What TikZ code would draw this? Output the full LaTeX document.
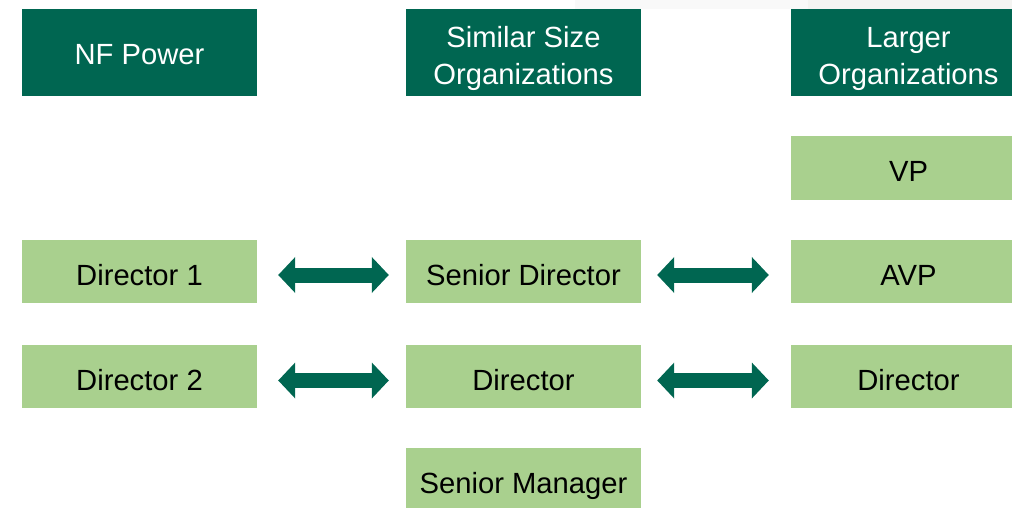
\documentclass[tikz,border=0pt]{standalone}
\usepackage{fontspec}
\setmainfont{Liberation Sans}
\usetikzlibrary{arrows.meta}
\definecolor{darkgreen}{HTML}{006651}
\definecolor{lightgreen}{HTML}{A9D08E}
\definecolor{bandA}{HTML}{F9F9F9}
\definecolor{bandB}{HTML}{F4F4F2}
\tikzset{
  boxfont/.style={font=\fontsize{29.2}{37}\selectfont},
  oneline/.style={text height=30pt, text depth=3pt},
  header/.style={fill=darkgreen, minimum width=235pt, minimum height=87pt, inner sep=0pt},
  headtext/.style={boxfont, text=white, align=center, inner sep=0pt},
  rolebox/.style={boxfont, oneline, fill=lightgreen, text=black, minimum width=235pt,
    minimum height=63pt, inner sep=0pt},
  linkarrow/.style={draw=darkgreen, line width=15pt,
    {Triangle[length=17pt,width=35pt]}-{Triangle[length=17pt,width=35pt]}}
}
\begin{document}
\begin{tikzpicture}[x=1pt,y=-1pt]
  \useasboundingbox (0,0) rectangle (1012,508);
  \clip (0,0) rectangle (1012,508);
  % faint band along the top edge
  \fill[bandA] (575,0) rectangle (1012,9);
  \fill[bandB] (808,0) rectangle (1012,9);

  % column headers
  \node[header] (h1) at (139.5,52.5) {};
  \node[header] (h2) at (523.5,52.5) {};
  \node[header] (h3) at (908.5,52.5) {};
  \node[headtext, text height=28pt, text depth=4pt] (h1t) at (h1.center) {NF Power};
  \node[headtext] (h2t) at ([yshift=-6pt]h2.center) {Similar Size\\Organizations};
  \node[headtext] (h3t) at ([yshift=-6pt]h3.center) {Larger\\Organizations};

  % roles
  \node[rolebox] (vp)  at (908.5,168)   {VP};
  \node[rolebox] (d1)  at (139.5,271.5) {Director 1};
  \node[rolebox] (sd)  at (523.5,271.5) {Senior Director};
  \node[rolebox] (avp) at (908.5,271.5) {AVP};
  \node[rolebox] (d2)  at (139.5,376.5) {Director 2};
  \node[rolebox] (sdr) at (523.5,376.5) {Director};
  \node[rolebox] (ldr) at (908.5,376.5) {Director};
  \node[rolebox] (sm)  at (523.5,479.5) {Senior Manager};

  % equivalence arrows
  \draw[linkarrow, shorten <=21pt, shorten >=17pt] ([yshift=-3.5pt]d1.east) -- ([yshift=-3.5pt]sd.west);
  \draw[linkarrow, shorten <=16pt, shorten >=22pt] ([yshift=-3.5pt]sd.east) -- ([yshift=-3.5pt]avp.west);
  \draw[linkarrow, shorten <=21pt, shorten >=17pt] ([yshift=-4pt]d2.east) -- ([yshift=-4pt]sdr.west);
  \draw[linkarrow, shorten <=16pt, shorten >=22pt] ([yshift=-4pt]sdr.east) -- ([yshift=-4pt]ldr.west);
\end{tikzpicture}
\end{document}
